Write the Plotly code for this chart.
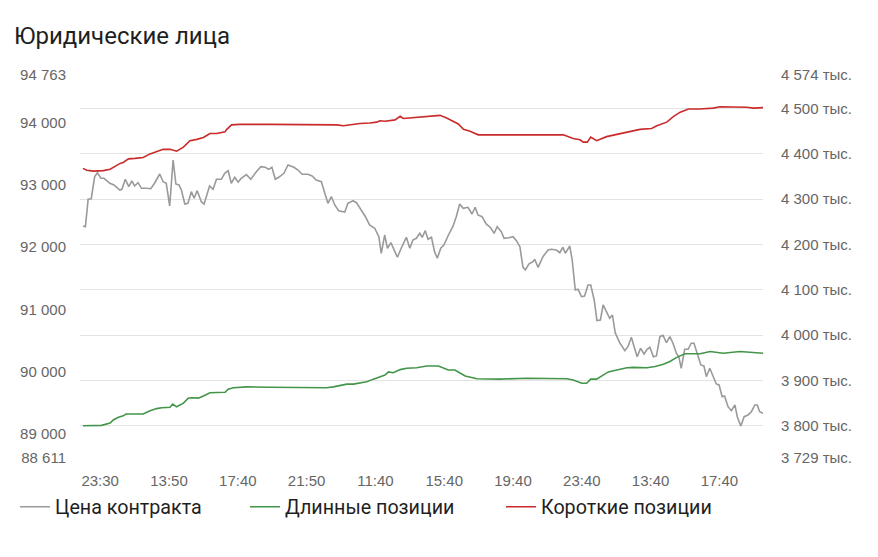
import plotly.graph_objects as go

# ---------------- data ----------------
title_text = "Юридические лица"
series_names = ["Цена контракта", "Длинные позиции", "Короткие позиции"]

x_tick_idx = [5, 25, 45, 65, 85, 105, 125, 145, 165, 185]
x_tick_labels = ["23:30", "13:50", "17:40", "21:50", "11:40", "15:40", "19:40", "23:40", "13:40", "17:40"]

price_ticks = [88611, 89000, 90000, 91000, 92000, 93000, 94000, 94763]
pos_ticks = [3729, 3800, 3900, 4000, 4100, 4200, 4300, 4400, 4500, 4574]  # тыс.

price_idx = [
    0, 0.7, 1.5, 2.4, 3.4, 4.2, 5.2, 6.1, 7.8, 9.0, 10.7, 11.3,
    12.3, 13.3, 14.2, 15.0, 16.0, 17.0, 18.4, 19.7, 20.8, 22.3, 23.3, 24.2,
    25.2, 26.2, 27.0, 27.9, 28.6, 29.6, 30.5, 31.5, 32.3, 33.2, 34.4, 35.2,
    36.8, 37.8, 38.8, 40.2, 41.2, 42.2, 43.1, 44.1, 45.1, 46.0, 47.5, 48.8,
    50.4, 51.7, 53.0, 54.0, 54.9, 55.9, 56.9, 58.4, 59.6, 61.3, 62.5, 63.7,
    65.4, 66.6, 67.8, 69.3, 70.3, 71.2, 72.2, 73.2, 74.3, 76.1, 77.0, 78.5,
    79.5, 80.9, 82.1, 83.3, 84.8, 86.0, 86.7, 87.7, 88.5, 89.5, 90.4, 91.4,
    92.5, 94.0, 95.0, 95.9, 96.9, 97.9, 98.6, 99.5, 100.3, 101.3, 102.2, 103.0,
    104.0, 104.9, 106.1, 107.6, 108.5, 109.5, 110.5, 111.9, 113.1, 114.0, 114.8, 116.0,
    117.2, 118.5, 119.5, 120.4, 121.6, 122.4, 123.8, 125.0, 126.0, 127.0, 127.9, 128.6,
    129.6, 130.8, 131.3, 132.3, 133.7, 135.2, 136.1, 137.6, 138.6, 139.5, 140.2, 141.5,
    142.2, 143.1, 143.9, 144.9, 145.8, 146.8, 147.6, 148.6, 149.4, 150.4, 151.2, 152.1,
    153.1, 153.9, 154.7, 156.0, 157.5, 158.4, 159.4, 160.2, 161.1, 162.1, 163.1, 164.0,
    164.8, 165.8, 166.7, 167.7, 168.6, 169.6, 170.6, 171.5, 172.5, 173.2, 173.9, 174.9,
    175.9, 176.8, 177.6, 178.6, 179.6, 180.5, 181.2, 182.2, 183.1, 184.1, 184.9, 185.8,
    186.5, 187.5, 188.5, 189.5, 190.2, 191.2, 192.2, 193.3, 194.3, 195.3, 196.0, 196.7, 197.7,
]
price_vals = [
    92338, 92326, 92767, 92776, 93130, 93194, 93104, 93104, 93024, 92996, 92916, 92927,
    93088, 92969, 93061, 92980, 93033, 92943, 92943, 92937, 93024, 93173, 93049, 93024,
    92659, 93398, 93012, 92996, 92916, 92691, 92702, 92889, 92783, 92905, 92728, 92691,
    92980, 92927, 93088, 93088, 93184, 93226, 93024, 93120, 93040, 93104, 93162, 93088,
    93210, 93290, 93281, 93248, 93281, 93088, 93120, 93184, 93318, 93281, 93237, 93168,
    93168, 93141, 93077, 93049, 92863, 92702, 92808, 92675, 92583, 92563, 92702, 92744,
    92712, 92595, 92487, 92354, 92301, 92166, 91899, 92193, 91980, 92070, 91952, 91835,
    91980, 92156, 91980, 92113, 92140, 92220, 92156, 92262, 92124, 92156, 91925, 91819,
    91980, 92033, 92177, 92338, 92487, 92691, 92622, 92638, 92530, 92638, 92514, 92487,
    92370, 92310, 92220, 92326, 92246, 92140, 92150, 92166, 92102, 92005, 91674, 91631,
    91727, 91764, 91803, 91674, 91845, 91952, 91963, 91952, 91909, 91996, 91899, 92016,
    91792, 91310, 91321, 91202, 91213, 91390, 91390, 91149, 90817, 90828, 91069, 90961,
    90855, 90908, 90624, 90463, 90335, 90399, 90550, 90399, 90238, 90373, 90282, 90357,
    90389, 90238, 90250, 90560, 90582, 90463, 90560, 90454, 90293, 90238, 90052, 90357,
    90357, 90454, 90454, 90282, 90105, 90089, 89917, 90052, 89917, 89800, 89784, 89596,
    89607, 89435, 89371, 89463, 89275, 89125, 89275, 89302, 89355, 89463, 89463, 89355, 89329,
]

long_idx = [
    0, 2.0, 5.4, 7.9, 8.8, 10.3, 11.7, 12.5, 15.6, 17.5, 19.5, 21.4,
    22.9, 25.3, 26.1, 27.2, 29.2, 30.6, 31.6, 33.5, 35.0, 36.9, 41.3, 42.2,
    43.7, 47.6, 54.4, 64.0, 70.8, 72.8, 74.7, 76.7, 78.6, 82.5, 84.4, 86.3,
    87.8, 88.8, 90.2, 92.2, 94.1, 97.0, 99.9, 103.3, 104.7, 106.2, 108.1, 109.6,
    111.1, 114.5, 121.2, 129.0, 140.6, 142.5, 145.0, 146.4, 147.6, 149.3, 150.8, 152.7,
    155.2, 158.1, 160.0, 163.9, 166.3, 168.7, 170.6, 172.6, 175.0, 179.4, 182.3, 186.1,
    191.0, 197.7,
]
long_vals = [  # тыс.
    3800, 3800, 3801, 3806, 3813, 3819, 3822, 3826, 3825, 3826, 3833, 3838,
    3840, 3841, 3848, 3842, 3850, 3861, 3862, 3861, 3866, 3873, 3874, 3881,
    3884, 3886, 3885, 3884, 3884, 3886, 3889, 3892, 3892, 3897, 3903, 3908,
    3912, 3919, 3917, 3924, 3927, 3928, 3932, 3932, 3927, 3923, 3923, 3916,
    3910, 3904, 3903, 3905, 3904, 3901, 3894, 3894, 3903, 3903, 3910, 3919,
    3923, 3928, 3929, 3928, 3931, 3936, 3942, 3951, 3959, 3959, 3964, 3960,
    3964, 3960,
]

short_idx = [
    0, 1.1, 3.0, 5.9, 7.9, 9.3, 10.8, 11.7, 13.2, 15.1, 17.5, 19.5,
    21.4, 23.3, 25.3, 27.2, 29.2, 31.1, 33.1, 35.0, 36.9, 38.9, 41.3, 41.8,
    43.2, 45.6, 54.4, 64.0, 73.8, 75.7, 77.6, 80.5, 83.4, 85.4, 86.3, 87.8,
    90.7, 92.2, 93.1, 97.0, 100.9, 103.8, 105.7, 108.1, 109.1, 110.6, 112.5, 114.9,
    121.2, 130.9, 139.6, 142.5, 144.5, 145.4, 146.6, 147.6, 149.3, 152.2, 155.2, 158.1,
    161.9, 165.3, 166.8, 169.7, 171.6, 173.6, 176.0, 179.4, 183.2, 185.2, 189.0, 192.9,
    194.9, 197.7,
]
short_vals = [  # тыс.
    4368, 4364, 4362, 4363, 4366, 4373, 4379, 4381, 4389, 4390, 4392, 4400,
    4405, 4410, 4410, 4406, 4415, 4429, 4432, 4436, 4445, 4445, 4449, 4454,
    4464, 4465, 4465, 4464, 4464, 4462, 4464, 4467, 4468, 4470, 4473, 4472,
    4475, 4483, 4478, 4481, 4484, 4485, 4479, 4469, 4466, 4454, 4450, 4442,
    4442, 4443, 4442, 4434, 4431, 4426, 4426, 4437, 4429, 4438, 4443, 4448,
    4454, 4456, 4462, 4470, 4482, 4492, 4499, 4499, 4501, 4504, 4504, 4503,
    4501, 4502,
]

assert len(price_idx) == len(price_vals)
assert len(long_idx) == len(long_vals)
assert len(short_idx) == len(short_vals)

# ---------------- style ----------------
GRAY = "#9a9a9a"
GREEN = "#43954a"
RED = "#c92a2a"
TICK_COLOR = "#666666"
TEXT_COLOR = "#1f1f1f"
GRID = "#e3e3e3"


def fmt_space(v):
    return f"{v:,}".replace(",", " ")


fig = go.Figure()
fig.add_trace(go.Scatter(x=price_idx, y=price_vals, name=series_names[0], mode="lines",
                         line=dict(color=GRAY, width=1.6), yaxis="y", legend="legend"))
fig.add_trace(go.Scatter(x=long_idx, y=long_vals, name=series_names[1], mode="lines",
                         line=dict(color=GREEN, width=1.6), yaxis="y2", legend="legend2"))
fig.add_trace(go.Scatter(x=short_idx, y=short_vals, name=series_names[2], mode="lines",
                         line=dict(color=RED, width=1.6), yaxis="y2", legend="legend3"))

tick_font = dict(family="Liberation Sans", size=15, color=TICK_COLOR)
legend_font = dict(family="Roboto", size=19.7, color=TEXT_COLOR)


def legend_at(left_px):
    return dict(orientation="h", xref="container", yref="container",
                x=left_px / 878, xanchor="left", y=50 / 557, yanchor="middle",
                font=legend_font, itemwidth=30, bgcolor="rgba(0,0,0,0)")


fig.update_layout(
    width=878, height=557,
    margin=dict(l=80, r=115, t=75, b=99, autoexpand=False),
    paper_bgcolor="white", plot_bgcolor="white",
    title=dict(text=title_text, x=14 / 878, xref="container", xanchor="left",
               y=1 - 36 / 557, yref="container", yanchor="middle",
               font=dict(family="Roboto", size=24, color=TEXT_COLOR)),
    showlegend=True,
    legend=legend_at(15),
    legend2=legend_at(245),
    legend3=legend_at(501),
    xaxis=dict(range=[-0.87, 197.67], tickmode="array", tickvals=x_tick_idx,
               ticktext=x_tick_labels, showgrid=False, zeroline=False, showline=False,
               ticks="", ticklabelstandoff=12, automargin=False, tickfont=tick_font),
    yaxis=dict(range=[price_ticks[0], price_ticks[-1]], tickmode="array",
               tickvals=price_ticks, ticktext=[fmt_space(v) for v in price_ticks],
               showgrid=False, zeroline=False, showline=False, ticks="",
               ticklabelstandoff=13, automargin=False, tickfont=tick_font),
    yaxis2=dict(range=[pos_ticks[0], pos_ticks[-1]], overlaying="y", side="right",
                tickmode="array", tickvals=pos_ticks,
                ticktext=[fmt_space(v) + " тыс." for v in pos_ticks],
                showgrid=True, gridcolor=GRID, gridwidth=1, zeroline=False,
                showline=False, ticks="", ticklabelstandoff=17, automargin=False,
                tickfont=tick_font),
    hovermode=False,
)

fig.write_html("out.html")
